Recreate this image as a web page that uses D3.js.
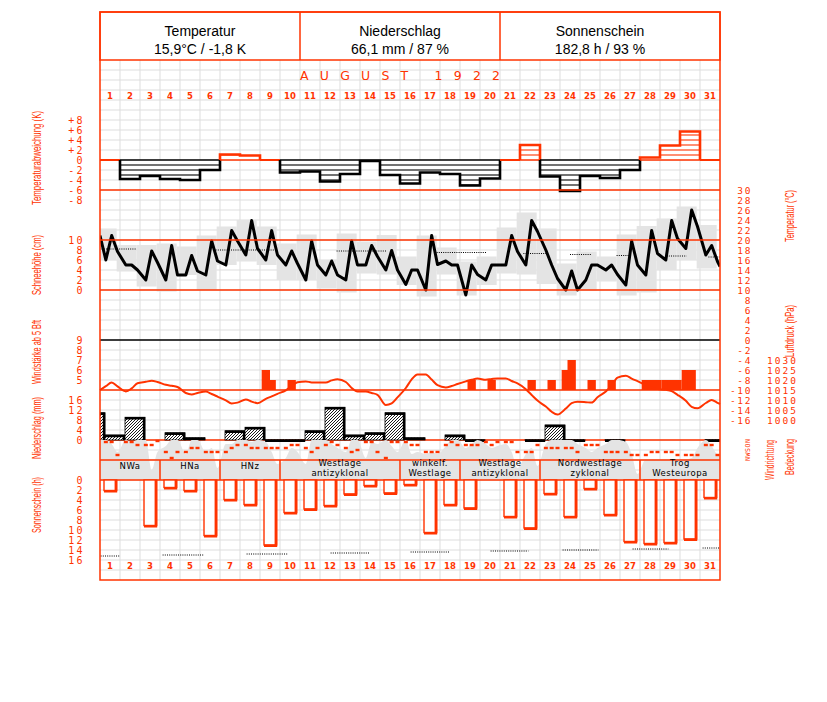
<!DOCTYPE html>
<html><head><meta charset="utf-8">
<script src="https://cdn.jsdelivr.net/npm/d3@7"></script>
<style>html,body{margin:0;padding:0;background:#fff}</style>
</head><body>
<svg id="c" width="827" height="702"></svg>
<script>
// ---------------- DATA ----------------
const days = d3.range(1, 32);
const readHours = [7, 14, 21];
const header = [
  {title: "Temperatur", value: "15,9°C / -1,8 K"},
  {title: "Niederschlag", value: "66,1 mm / 87 %"},
  {title: "Sonnenschein", value: "182,8 h / 93 %"}
];
const monthTitle = "AUGUST 1922";

const tempDeviation = [0, -3.8, -3.2, -3.8, -4, -2, 1.1, 0.9, 0, -2.5, -2.3, -4.3, -2.8, -0.2, -3, -4.7, -2.5, -2.8, -5.1, -3.7, 0, 3, -3.3, -6.2, -3.2, -3.6, -2, 0.5, 2.9, 5.7, 0];

const tempStart = 20.9, tempEnd = 14.7;
const temp07 = [16, 15, 12, 12, 13, 13, 15, 17, 16, 15, 12, 13, 12, 15, 14, 11.1, 10, 15.8, 9, 12, 15, 15, 18, 10, 12, 14, 11, 13, 16, 18.3, 17];
const temp14 = [20.9, 15, 17.8, 18.9, 16.9, 19.8, 21.9, 23.9, 21.9, 17.8, 19.8, 15.8, 19.8, 18.9, 17.9, 14, 20.9, 15, 15, 15, 20.9, 23.9, 15, 13.8, 15, 15, 19.8, 21.9, 23.9, 26, 18.9];
const temp21 = [17.7, 14, 15.5, 13, 13.8, 15.8, 19.8, 18.3, 17, 15.3, 15, 13, 15, 16.7, 14, 14, 15.1, 15, 13.1, 15, 17.7, 21.7, 12.3, 10, 15, 13.1, 15, 17.3, 20.3, 22.7, 15.7];
const tempMax = [22.3, 19.0, 19.0, 19.3, 18.7, 20.9, 22.7, 24.0, 22.7, 19.3, 21.1, 16.0, 21.3, 19.7, 21.0, 16.7, 20.9, 18.5, 15.7, 16.7, 22.5, 25.5, 22.3, 15.3, 17.7, 16.7, 21.1, 22.8, 24.3, 26.7, 23.0];
const tempMin = [16.0, 13.7, 10.7, 9.7, 13.0, 10.0, 15.0, 15.7, 15.0, 12.0, 12.0, 10.3, 9.5, 13.3, 13.1, 11.0, 8.7, 13.1, 8.9, 11.0, 13.3, 13.1, 11.2, 8.9, 9.8, 11.7, 8.9, 9.5, 14.0, 16.0, 14.3];
// [from day, to day, °C]
const tempNormals = [[0.08, 1.83, 18.2], [5.67, 8.83, 18.0], [11.83, 14.33, 17.8], [16.83, 19.3, 17.5], [21.17, 22.33, 17.3], [23.5, 24.58, 17.1], [25.83, 26.5, 16.9], [28.33, 29.33, 16.8], [30.42, 31, 16.6]];

const presStart = 1015, presEnd = 1008;
const pres07 = [1016.9, 1014.3, 1019.1, 1017.6, 1013.5, 1014.2, 1009.8, 1010.3, 1010.6, 1014.8, 1019.3, 1018.8, 1019.0, 1014.2, 1007.5, 1016.0, 1022.8, 1016.3, 1019.3, 1020.1, 1020.8, 1015.4, 1006.7, 1005.7, 1008.9, 1014.2, 1022.1, 1017.5, 1015.1, 1009.6, 1008.5];
const pres14 = [1018.8, 1015.8, 1019.6, 1017.1, 1012.8, 1013.0, 1008.3, 1009.2, 1011.8, 1017.0, 1018.8, 1019.8, 1016.0, 1013.5, 1008.3, 1020.3, 1020.2, 1017.0, 1020.1, 1020.5, 1019.5, 1012.5, 1004.1, 1008.4, 1008.7, 1017.3, 1020.7, 1016.2, 1014.4, 1006.6, 1010.0];
const pres21 = [1016.8, 1018.4, 1019.0, 1016.5, 1013.5, 1011.7, 1008.7, 1008.4, 1013.1, 1018.9, 1018.8, 1020.4, 1014.2, 1012.6, 1011.3, 1022.8, 1017.4, 1018.0, 1020.7, 1020.8, 1018.3, 1009.7, 1002.7, 1009.1, 1011.4, 1021.2, 1019.4, 1015.5, 1012.6, 1005.9, 1008.6];

// wind force (Bft) at 7/14/21 h, 0 = below 5 Bft
const wind07 = [0,0,0,0,0,0,0,0,6,0,0,0,0,0,0,0,0,0,0,0,0,0,0,6,0,0,0,5,5,6,0];
const wind14 = [0,0,0,0,0,0,0,0,5,5,0,0,0,0,0,0,0,0,5,5,0,5,5,7,5,5,0,5,5,6,0];
const wind21 = [0,0,0,0,0,0,0,0,0,0,0,0,0,0,0,0,0,0,0,0,0,0,0,0,0,0,0,5,5,0,0];

const precipPrev = 10.9;
const precip = [2.0, 9.1, 0, 2.9, 0.9, 0, 3.7, 5.1, 0.1, 0.1, 3.7, 13.1, 2.0, 2.9, 10.9, 0.9, 0, 2.0, 0.1, 0, 0, 0.1, 6.0, 0.1, 0, 0.1, 0, 0, 0, 0, 0.1];

// cloud cover (tenths) at 7/14/21 h
const cloud07 = [10, 10, 10, 8.5, 6.5, 7, 9, 10, 9.5, 5.5, 4, 10, 7, 5.5, 10, 10, 6.5, 8.5, 8, 9, 9, 6.5, 9, 10, 8, 9, 9.5, 5.2, 5.2, 5.2, 10];
const cloud14 = [9, 9.5, 2.5, 10, 10, 8, 9, 9.5, 7, 8, 10, 9, 10, 9.5, 8.5, 6.5, 7, 10, 9, 8, 7, 8, 10, 10, 7, 10, 6.5, 5.2, 5.2, 5.5, 8.5];
const cloud21 = [7, 10, 7, 10, 10, 3, 10, 10, 4, 7, 10, 8, 10, 9, 7, 7, 6.5, 10, 10, 8.5, 3, 3.5, 10, 9, 8, 10, 1.5, 5.2, 5.2, 8, 6.5];

// wind direction (degrees) at 7/14/21 h
const dir07 = [20, 20, 80, 220, 220, 220, 220, 80, 140, 140, 140, 80, 140, 20, 340, 20, 220, 80, 80, 20, 20, 220, 140, 140, 80, 220, 220, 280, 220, 280, 80];
const dir14 = [20, 20, 80, 340, 140, 220, 140, 140, 140, 80, 220, 20, 220, 20, 20, 80, 220, 20, 80, 80, 20, 220, 140, 140, 80, 220, 280, 220, 220, 280, 80];
const dir21 = [280, 80, 0, 220, 140, 220, 80, 140, 140, 80, 140, 80, 180, 220, 20, 80, 220, 80, 80, 20, 220, 80, 140, 220, 80, 220, 280, 220, 280, 280, 280];

const sunshine = [2.1, 0, 9.1, 1.5, 2.1, 11.1, 3.9, 4.9, 13.0, 6.5, 5.8, 5.1, 2.8, 1.1, 2.6, 0.9, 10.5, 4.9, 5.6, 0, 7.3, 9.6, 2.7, 7.3, 1.7, 6.9, 12.3, 12.7, 12.5, 11.8, 3.5];
// possible sunshine duration [from day, to day, h]
const daylight = [[0.03, 1.0, 15.2], [3.13, 5.2, 15.0], [7.33, 9.42, 14.8], [11.53, 13.5, 14.6], [15.53, 17.5, 14.4], [19.53, 21.42, 14.2], [23.13, 24.92, 14.0], [26.63, 28.42, 13.8], [30.13, 31, 13.6]];

const weatherTypes = [
  {lines: ["NWa"], from: 1, to: 3},
  {lines: ["HNa"], from: 4, to: 6},
  {lines: ["HNz"], from: 7, to: 9},
  {lines: ["Westlage", "antizyklonal"], from: 10, to: 15},
  {lines: ["winkelf.", "Westlage"], from: 16, to: 18},
  {lines: ["Westlage", "antizyklonal"], from: 19, to: 22},
  {lines: ["Nordwestlage", "zyklonal"], from: 23, to: 27},
  {lines: ["Trog", "Westeuropa"], from: 28, to: 31}
];

const devTicks = [8, 6, 4, 2, 0, -2, -4, -6, -8];
const snowTicks = [10, 8, 6, 4, 2, 0];
const windTicks = [9, 8, 7, 6, 5];
const precTicks = [16, 12, 8, 4, 0];
const sunTicks = [0, 2, 4, 6, 8, 10, 12, 14, 16];
const tempTicks = d3.range(30, -17, -2);
const presTicks = [1030, 1025, 1020, 1015, 1010, 1005, 1000];
const dirTicks = [0, 90, 180, 270, 360];
const dirLabels = ["N", "O", "S", "W", "N"];

const leftTitles = [
  {text: "Temperaturabweichung (K)", y: 158, len: 94},
  {text: "Schneehöhe (cm)", y: 265, len: 60},
  {text: "Windstärke ab 5 Bft", y: 352, len: 64},
  {text: "Niederschlag (mm)", y: 428, len: 62},
  {text: "Sonnenschein (h)", y: 505, len: 56}
];
const rightTitles = [
  {text: "Temperatur (°C)", x: 790, y: 216, len: 52},
  {text: "Luftdruck (hPa)", x: 790, y: 331, len: 52},
  {text: "Windrichtung", x: 770, y: 460, len: 40},
  {text: "Bedeckung", x: 790, y: 457, len: 36}
];

// ---------------- DRAWING ----------------
const RED = "#ff3300", GRAY = "#e4e4e4", GRID = "#dddddd";
const MONO = "'DejaVu Sans Mono', monospace";
const SANS = "'DejaVu Sans', sans-serif";
const svg = d3.select("#c");

const x = d3.scaleLinear().domain([0, 31]).range([100, 720]);
const yDev = d3.scaleLinear().domain([-8, 8]).range([200, 120]);
const yTemp = d3.scaleLinear().domain([-16, 30]).range([420, 190]);
const ySnow = d3.scaleLinear().domain([0, 10]).range([290, 240]);
const yWind = d3.scaleLinear().domain([4, 9]).range([390, 340]);
const yPres = d3.scaleLinear().domain([1000, 1030]).range([420, 360]);
const yPrec = d3.scaleLinear().domain([0, 16]).range([440, 400]);
const yCloud = d3.scaleLinear().domain([0, 10]).range([480, 440]);
const yDir = d3.scaleLinear().domain([0, 360]).range([441, 459]);
const ySun = d3.scaleLinear().domain([0, 16]).range([480, 560]);

const defs = svg.append("defs");
defs.append("clipPath").attr("id", "plot").append("rect")
  .attr("x", x(0)).attr("y", 60).attr("width", x(31) - x(0)).attr("height", 520);
const hatch = defs.append("pattern").attr("id", "hatch").attr("patternUnits", "userSpaceOnUse")
  .attr("width", 3).attr("height", 3);
hatch.append("rect").attr("width", 3).attr("height", 3).attr("fill", "#fff");
hatch.append("path").attr("d", "M-1,1 l2,-2 M0,3 l3,-3 M2,4 l2,-2")
  .attr("stroke", "#000").attr("stroke-width", 0.9);

svg.append("rect").attr("width", 827).attr("height", 702).attr("fill", "#fff");

// grid
const grid = svg.append("g");
d3.range(70, 580, 10).forEach(yy => grid.append("line").attr("x1", x(0)).attr("x2", x(31))
  .attr("y1", yy).attr("y2", yy).attr("stroke", GRID).attr("stroke-width", 1));
d3.range(1, 31).forEach(d => grid.append("line").attr("x1", x(d)).attr("x2", x(d))
  .attr("y1", 60).attr("y2", 580).attr("stroke", GRID).attr("stroke-width", 1));

// header
const hd = svg.append("g");
hd.append("rect").attr("x", x(0)).attr("y", 12).attr("width", x(31) - x(0)).attr("height", 48)
  .attr("fill", "none").attr("stroke", RED).attr("stroke-width", 1.5);
[10, 20].forEach(d => hd.append("line").attr("x1", x(d)).attr("x2", x(d)).attr("y1", 12).attr("y2", 60)
  .attr("stroke", RED).attr("stroke-width", 1.5));
header.forEach((h, i) => {
  const cx = x(5 + 10 * i);
  hd.append("text").attr("x", cx).attr("y", 36).attr("text-anchor", "middle")
    .attr("font-family", "'Liberation Sans', Arial, sans-serif").attr("font-size", 14).text(h.title);
  hd.append("text").attr("x", cx).attr("y", 54).attr("text-anchor", "middle")
    .attr("font-family", "'Liberation Sans', Arial, sans-serif").attr("font-size", 14).text(h.value);
});
svg.append("text").attr("x", x(10)).attr("y", 80).attr("fill", RED)
  .attr("font-family", SANS).attr("font-size", 12.5)
  .attr("textLength", x(20) - x(10)).attr("lengthAdjust", "spacing").text(monthTitle);

// day labels
[99, 569].forEach(yy => {
  svg.append("g").selectAll("text").data(days).join("text")
    .attr("x", d => x(d - 0.5)).attr("y", yy).attr("text-anchor", "middle")
    .attr("font-family", SANS).attr("font-weight", "bold").attr("font-size", 8.5).attr("fill", RED)
    .text(d => d);
});

// temperature deviation
const dev = svg.append("g");
const runs = [];
tempDeviation.forEach((v, i) => {
  const s = v > 0 ? 1 : (v < 0 ? -1 : 0);
  if (!runs.length || runs[runs.length - 1].s !== s) runs.push({s, start: i, vals: []});
  runs[runs.length - 1].vals.push(v);
});
runs.forEach(r => {
  const x0 = x(r.start), x1 = x(r.start + r.vals.length);
  if (r.s === 0) {
    dev.append("line").attr("x1", x0).attr("x2", x1).attr("y1", yDev(0)).attr("y2", yDev(0))
      .attr("stroke", RED).attr("stroke-width", 2);
    return;
  }
  const col = r.s > 0 ? RED : "#000";
  r.vals.forEach((v, k) => {
    const d = r.start + k;
    dev.append("rect").attr("x", x(d)).attr("width", x(d + 1) - x(d))
      .attr("y", Math.min(yDev(0), yDev(v))).attr("height", Math.abs(yDev(v) - yDev(0))).attr("fill", "#fff");
    for (let j = 1; j < Math.abs(v); j++) {
      dev.append("line").attr("x1", x(d)).attr("x2", x(d + 1)).attr("y1", yDev(r.s * j)).attr("y2", yDev(r.s * j))
        .attr("stroke", col).attr("stroke-width", 1.1);
    }
  });
  dev.append("line").attr("x1", x0).attr("x2", x1).attr("y1", yDev(0)).attr("y2", yDev(0))
    .attr("stroke", col).attr("stroke-width", 1.5);
  const pts = [[r.start, 0]];
  r.vals.forEach((v, k) => { pts.push([r.start + k, v]); pts.push([r.start + k + 1, v]); });
  pts.push([r.start + r.vals.length, 0]);
  dev.append("path").attr("d", d3.line().x(p => x(p[0])).y(p => yDev(p[1]))(pts))
    .attr("fill", "none").attr("stroke", col).attr("stroke-width", 2.6).attr("stroke-linejoin", "miter");
});

// temperature panel
const tp = svg.append("g").attr("clip-path", "url(#plot)");
tp.selectAll("rect.box").data(days).join("rect").attr("class", "box")
  .attr("x", d => x(d - 1 - 1 / 6)).attr("width", x(1) - x(0))
  .attr("y", d => yTemp(tempMax[d - 1])).attr("height", d => yTemp(tempMin[d - 1]) - yTemp(tempMax[d - 1]))
  .attr("fill", GRAY);
[[30, RED], [20, RED], [10, RED], [0, "#000"], [-10, RED]].forEach(([t, c]) =>
  svg.append("line").attr("x1", x(0)).attr("x2", x(31)).attr("y1", yTemp(t)).attr("y2", yTemp(t))
    .attr("stroke", c).attr("stroke-width", 1.3));
tp.selectAll("line.norm").data(tempNormals).join("line").attr("class", "norm")
  .attr("x1", d => x(d[0])).attr("x2", d => x(d[1])).attr("y1", d => yTemp(d[2])).attr("y2", d => yTemp(d[2]))
  .attr("stroke", "#000").attr("stroke-width", 1).attr("stroke-dasharray", "1,1.2");
const tempPts = [[0, tempStart]];
days.forEach((d, i) => {
  [temp07, temp14, temp21].forEach((arr, h) => tempPts.push([d - 1 + readHours[h] / 24, arr[i]]));
});
tempPts.push([31, tempEnd]);
tp.append("path").attr("d", d3.line().x(p => x(p[0])).y(p => yTemp(p[1]))(tempPts))
  .attr("fill", "none").attr("stroke", "#000").attr("stroke-width", 3).attr("stroke-linejoin", "round");

// wind bars
const wg = svg.append("g").attr("clip-path", "url(#plot)");
const windPts = [];
days.forEach((d, i) => [wind07, wind14, wind21].forEach((arr, h) => {
  if (arr[i] >= 5) windPts.push([d - 1 + readHours[h] / 24, arr[i]]);
}));
wg.selectAll("rect").data(windPts).join("rect")
  .attr("x", p => x(p[0] - 0.2083)).attr("width", x(0.4167) - x(0))
  .attr("y", p => yWind(p[1])).attr("height", p => yWind(4) - yWind(p[1])).attr("fill", RED);

// pressure
const presPts = [[0, presStart]];
days.forEach((d, i) => [pres07, pres14, pres21].forEach((arr, h) => presPts.push([d - 1 + readHours[h] / 24, arr[i]])));
presPts.push([31, presEnd]);
svg.append("path").attr("d", d3.line().curve(d3.curveMonotoneX).x(p => x(p[0])).y(p => yPres(p[1]))(presPts))
  .attr("fill", "none").attr("stroke", RED).attr("stroke-width", 2);

// precipitation
svg.append("line").attr("x1", x(0)).attr("x2", x(31)).attr("y1", yPrec(0)).attr("y2", yPrec(0))
  .attr("stroke", RED).attr("stroke-width", 1.5);
const pg = svg.append("g").attr("clip-path", "url(#plot)");
const precBars = [[-1, precipPrev]].concat(days.map((d, i) => [d - 1, precip[i]])).filter(p => p[1] > 0);
precBars.forEach(([d0, v]) => {
  const x0 = x(d0 + 0.25), x1 = x(d0 + 1.25), yt = yPrec(v);
  pg.append("rect").attr("x", x0).attr("y", yt).attr("width", x1 - x0).attr("height", yPrec(0) - yt)
    .attr("fill", "url(#hatch)").attr("stroke", "#000").attr("stroke-width", 0.8);
  pg.append("path").attr("d", `M${x0},${yt + 1}H${x1 - 1}V${yPrec(0)}`)
    .attr("fill", "none").attr("stroke", "#000").attr("stroke-width", 2.4);
});

// cloud cover area
const cloudPts = [[0, cloud07[0]]];
days.forEach((d, i) => [cloud07, cloud14, cloud21].forEach((arr, h) => cloudPts.push([d - 1 + readHours[h] / 24, arr[i]])));
cloudPts.push([31, cloud21[30]]);
svg.append("path").attr("clip-path", "url(#plot)")
  .attr("d", d3.area().curve(d3.curveMonotoneX).x(p => x(p[0])).y0(yCloud(0)).y1(p => yCloud(p[1]))(cloudPts))
  .attr("fill", GRAY);

// wind direction dots
const dirPts = [];
days.forEach((d, i) => [dir07, dir14, dir21].forEach((arr, h) => dirPts.push([d - 1 + readHours[h] / 24, arr[i]])));
svg.append("g").selectAll("rect").data(dirPts).join("rect")
  .attr("x", p => x(p[0]) - 2).attr("y", p => yDir(p[1]) - 1.2).attr("width", 4).attr("height", 2.4).attr("fill", RED);

[460, 480].forEach(yy => svg.append("line").attr("x1", x(0)).attr("x2", x(31)).attr("y1", yy).attr("y2", yy)
  .attr("stroke", RED).attr("stroke-width", 1.5));

// weather types
const wt = svg.append("g");
weatherTypes.forEach(w => {
  if (w.to < 31) wt.append("line").attr("x1", x(w.to)).attr("x2", x(w.to)).attr("y1", 460).attr("y2", 480)
    .attr("stroke", RED).attr("stroke-width", 1.5);
  const cx = x((w.from - 1 + w.to) / 2);
  const ys = w.lines.length === 1 ? [468.5] : [466, 475.5];
  w.lines.forEach((t, k) => wt.append("text").attr("x", cx).attr("y", ys[k]).attr("text-anchor", "middle")
    .attr("font-family", SANS).attr("font-size", 8.5).attr("letter-spacing", 0.5).attr("fill", "#000").text(t));
});

// sunshine
const sg = svg.append("g");
days.forEach((d, i) => {
  const v = sunshine[i];
  if (v <= 0) return;
  const x0 = x(d - 1 + 0.2), x1 = x(d - 1 + 0.835), yb = ySun(v);
  sg.append("rect").attr("x", x0).attr("y", ySun(0)).attr("width", x1 - x0).attr("height", yb - ySun(0))
    .attr("fill", "#fff").attr("stroke", RED).attr("stroke-width", 1.4);
  sg.append("path").attr("d", `M${x1 - 0.8},${ySun(0)}V${yb + 0.8}H${x0}`)
    .attr("fill", "none").attr("stroke", RED).attr("stroke-width", 2.6);
});
sg.selectAll("line.dl").data(daylight).join("line").attr("class", "dl")
  .attr("x1", d => x(d[0])).attr("x2", d => x(d[1])).attr("y1", d => ySun(d[2])).attr("y2", d => ySun(d[2]))
  .attr("stroke", "#000").attr("stroke-width", 1).attr("stroke-dasharray", "1,1.2");

// frame
svg.append("rect").attr("x", x(0)).attr("y", 12).attr("width", x(31) - x(0)).attr("height", 568)
  .attr("fill", "none").attr("stroke", RED).attr("stroke-width", 1.5);

// axes
function axisL(xPos, scale, vals, fmt, ls, fs) {
  const g = svg.append("g").attr("transform", `translate(${xPos},0)`)
    .call(d3.axisLeft(scale).tickValues(vals).tickSize(0).tickPadding(0).tickFormat(fmt));
  g.select(".domain").remove();
  g.attr("font-family", MONO).attr("font-size", fs);
  g.selectAll("text").attr("fill", RED).attr("letter-spacing", ls);
  return g;
}
axisL(85, yDev, devTicks, v => v > 0 ? "+" + v : String(v), 2.4, 10);
axisL(85, ySnow, snowTicks, v => String(v), 2.4, 10);
axisL(85, yWind, windTicks, v => String(v), 2.4, 10);
axisL(85, yPrec, precTicks, v => String(v), 2.4, 10);
axisL(85, ySun, sunTicks, v => String(v), 2.4, 10);
axisL(752, yTemp, tempTicks, v => String(v), 1.6, 9.5);
axisL(798, yPres, presTicks, v => String(v), 2, 9.5);
// wind direction letters
svg.append("g").selectAll("text").data(dirTicks).join("text")
  .attr("transform", (d) => `translate(748,${yDir(d)}) rotate(-90)`)
  .attr("text-anchor", "middle").attr("dy", "0.35em")
  .attr("font-family", MONO).attr("font-size", 6.5).attr("fill", RED)
  .text((d, i) => dirLabels[i]);

// titles
leftTitles.forEach(t => svg.append("text")
  .attr("transform", `translate(41,${t.y}) rotate(-90)`).attr("text-anchor", "middle")
  .attr("font-family", "'Liberation Sans', Arial, sans-serif").attr("font-size", 12).attr("fill", RED)
  .attr("textLength", t.len).attr("lengthAdjust", "spacingAndGlyphs").text(t.text));
rightTitles.forEach(t => svg.append("text")
  .attr("transform", `translate(${t.x + 4},${t.y}) rotate(-90)`).attr("text-anchor", "middle")
  .attr("font-family", "'Liberation Sans', Arial, sans-serif").attr("font-size", 12).attr("fill", RED)
  .attr("textLength", t.len).attr("lengthAdjust", "spacingAndGlyphs").text(t.text));
</script>
</body></html>
